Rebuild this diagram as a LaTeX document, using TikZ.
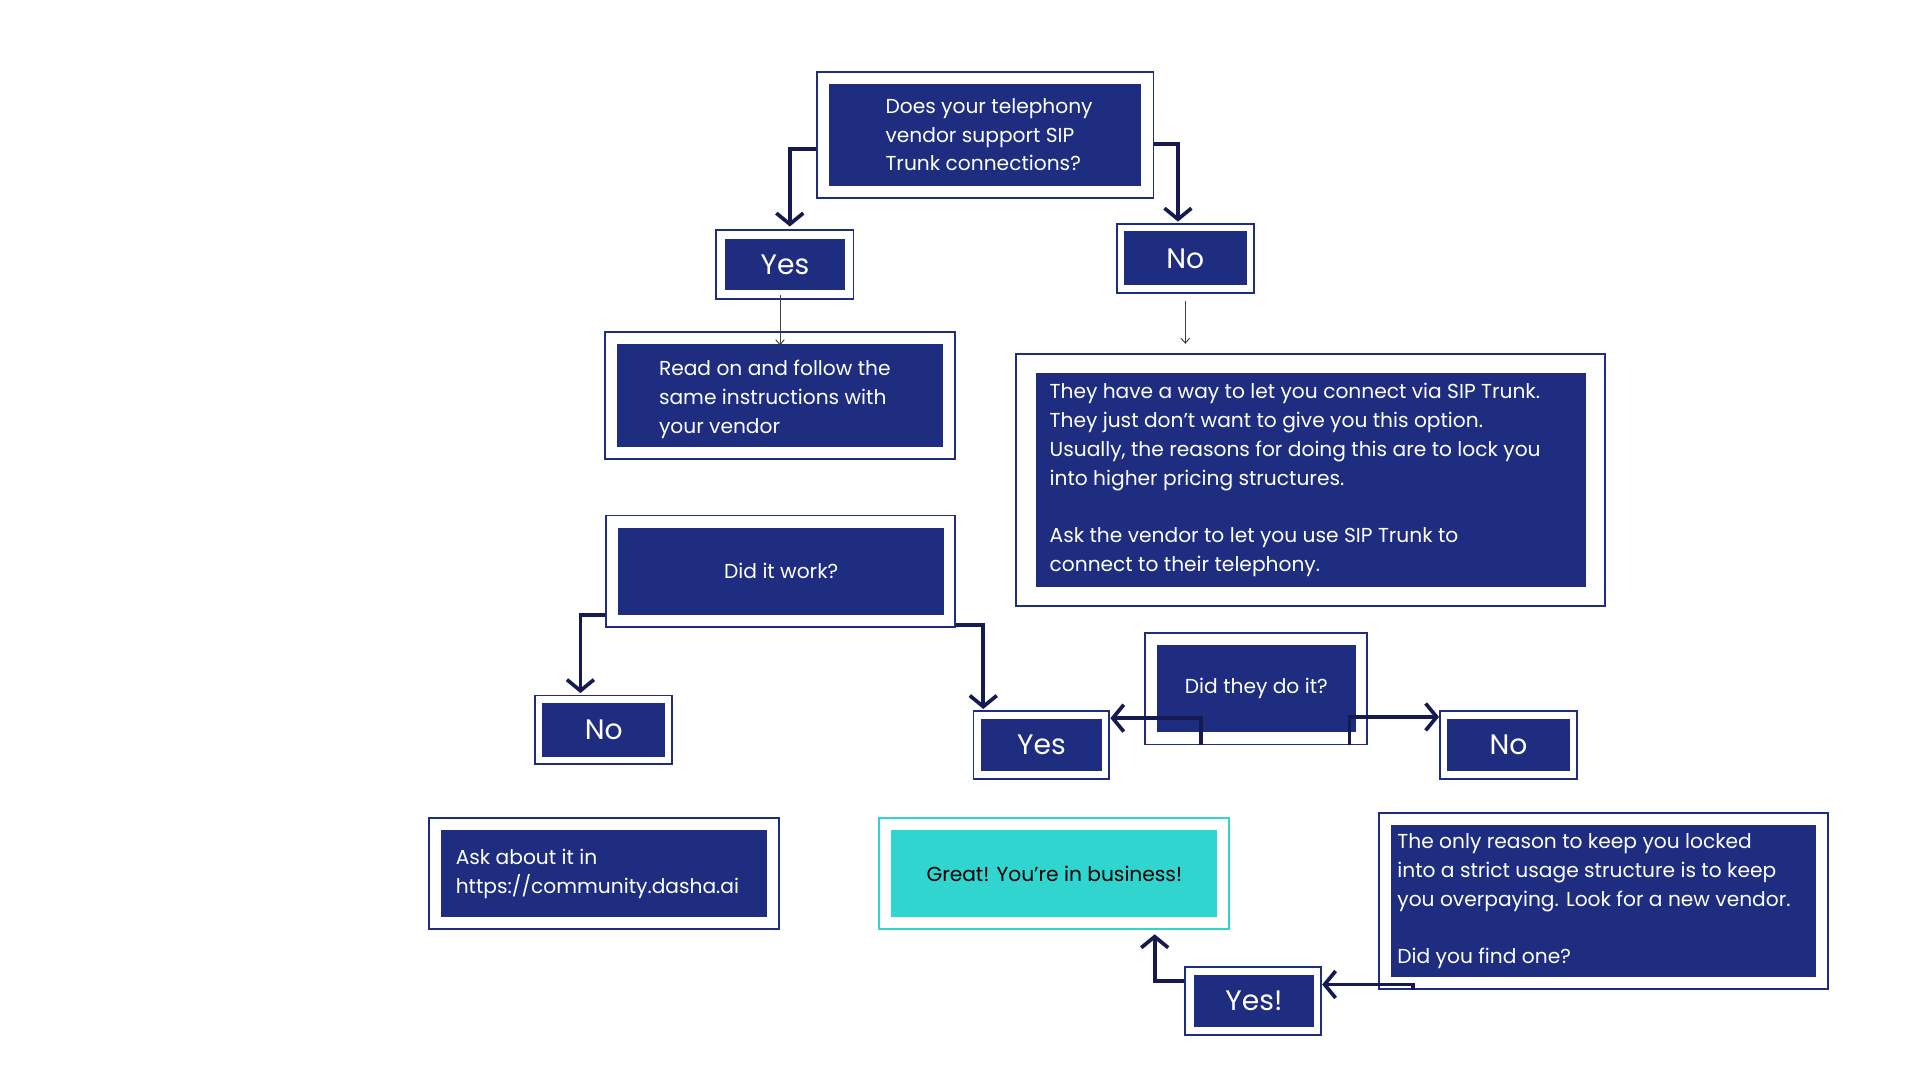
\documentclass[tikz,border=0pt]{standalone}
\usepackage{fontspec}
\setmainfont{Poppins}
\usetikzlibrary{fit,arrows.meta}
\definecolor{navy}{HTML}{1F2D80}
\definecolor{dnavy}{HTML}{151A50}
\definecolor{cyan2}{HTML}{30D5CF}
\begin{document}
\begin{tikzpicture}[x=1pt,y=-1pt,
  outer/.style={draw=navy,line width=1.6pt,fill=white,inner sep=0pt},
  outerc/.style={draw=cyan2,line width=1.6pt,fill=white,inner sep=0pt},
  inner/.style={fill=navy,inner sep=0pt},
  innerc/.style={fill=cyan2,inner sep=0pt},
  txt/.style={text=white,font=\fontsize{16.5}{23.5}\selectfont,align=left,inner sep=0pt},
  big/.style={text=white,font=\fontsize{23}{26}\selectfont,inner sep=0pt},
  thk/.style={draw=dnavy,line width=3pt,-{Straight Barb[length=9pt,width=22pt,line width=3pt]}},
  thn/.style={draw=black!75,line width=0.8pt,-{Straight Barb[length=4pt,width=7pt]}}]
\useasboundingbox (0,0) rectangle (1568,882);
% boxes
\node[outer,fit={(667,59)(942,162)}] (topo) {};
\node[inner,fit={(677,69)(932,152)}] (top) {};
\node[txt,anchor=west] at (723,110) {Does your telephony\\vendor support SIP\\Trunk connections?};

\node[outer,fit={(585,188)(697,244)}] (yes1o) {};
\node[inner,fit={(592,195)(690,237)}] (yes1) {};
\node[big] at (yes1) {Yes};

\node[outer,fit={(912,183)(1024,239)}] (no1o) {};
\node[inner,fit={(918,189)(1018,233)}] (no1) {};
\node[big] at (no1) {No};

\node[outer,fit={(494,271)(780,375)}] (reado) {};
\node[inner,fit={(504,281)(770,365)}] (read) {};
\node[txt,anchor=west] at (538,326) {Read on and follow the\\same instructions with\\your vendor};

\node[outer,fit={(495,421)(780,512)}] (worko) {};
\node[inner,fit={(505,431)(771,502)}] (work) {};
\node[txt] at (work) {Did it work?};

\node[outer,fit={(830,289)(1311,495)}] (theyo) {};
\node[inner,fit={(846,305)(1295,479)}] (they) {};
\node[txt,anchor=west] at (857,392) {They have a way to let you connect via SIP Trunk.\\They just don't want to give you this option.\\Usually, the reasons for doing this are to lock you\\into higher pricing structures.\\[23.5pt]Ask the vendor to let you use SIP Trunk to\\connect to their telephony.};

\node[outer,fit={(935,517)(1116,608)}] (dido) {};
\node[inner,fit={(945,527)(1107,598)}] (did) {};
\node[txt] at (did) {Did they do it?};

\node[outer,fit={(437,568)(549,624)}] (no2o) {};
\node[inner,fit={(443,574)(543,618)}] (no2) {};
\node[big] at (no2) {No};

\node[outer,fit={(795,581)(906,636)}] (yes2o) {};
\node[inner,fit={(801,587)(900,630)}] (yes2) {};
\node[big] at (yes2) {Yes};

\node[outer,fit={(1176,581)(1288,636)}] (no3o) {};
\node[inner,fit={(1182,587)(1282,630)}] (no3) {};
\node[big] at (no3) {No};

\node[outer,fit={(350,668)(636,759)}] (asko) {};
\node[inner,fit={(360,678)(626,749)}] (ask) {};
\node[txt,anchor=west] at (372,714) {Ask about it in\\https://community.dasha.ai};

\node[outerc,fit={(718,668)(1004,759)}] (greato) {};
\node[innerc,fit={(728,678)(994,749)}] (great) {};
\node[txt,text=black] at (great) {Great! You're in business!};

\node[outer,fit={(1126,664)(1493,808)}] (onlyo) {};
\node[inner,fit={(1136,674)(1483,798)}] (only) {};
\node[txt,anchor=west] at (1141,736) {The only reason to keep you locked\\into a strict usage structure is to keep\\you overpaying. Look for a new vendor.\\[23.5pt]Did you find one?};

\node[outer,fit={(968,790)(1079,845)}] (yes3o) {};
\node[inner,fit={(975,796)(1073,839)}] (yes3) {};
\node[big] at (yes3) {Yes!};

% thick connectors
\coordinate (a1) at (645,185);
\draw[thk] ([yshift=-11pt]topo.west) -| (a1);
\coordinate (a2) at (962,181);
\draw[thk] ([yshift=-7pt]topo.east) -| (a2);
\coordinate (a3) at (474,566);
\draw[thk] ([yshift=-36pt]worko.west) -| (a3);
\coordinate (a4) at (803,579);
\draw[thk] ([yshift=-44pt]worko.east) -| (a4);
\draw[thk] ([xshift=-44.5pt]dido.south) |- ([yshift=22pt]yes2o.east);
\draw[thk] ([xshift=76.5pt]dido.south) |- ([yshift=23pt]no3o.west);
\draw[thk] ([xshift=-155.5pt]onlyo.south) |- ([yshift=13.5pt]yes3o.east);
\coordinate (a5) at (943,763);
\draw[thk] ([yshift=16.5pt]yes3o.west) -| (a5);
% thin connectors
\draw[thn] ([yshift=4pt]yes1o.south-|637,0) -- (637,282);
\draw[thn] (968,246) -- (read.north-|968,0) ;
\end{tikzpicture}
\end{document}
